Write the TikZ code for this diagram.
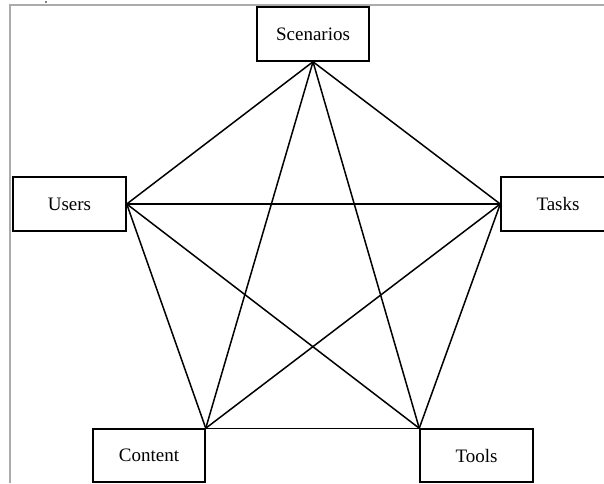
\documentclass[tikz,border=0pt]{standalone}
\usepackage{fontspec}
\setmainfont{Liberation Serif}
\tikzset{
    facet/.style = {rectangle,
                    fill=white,
                    draw=black,
                    text=black,
                    line width=1.5pt,
                    inner sep=0pt,
                    font=\fontsize{19}{22}\selectfont},
    link/.style  = {line width=1.5pt,
                    draw=black},
    frame/.style = {line width=2pt,
                    draw=black!33}}
\begin{document}
\begin{tikzpicture}[x=1pt,y=-1pt]
                \useasboundingbox (0,0) rectangle (604,483);
                \clip (0,0) rectangle (604,483);
                \draw [frame] (10,483) -- (10,5) -- (604,5);
                \fill (46,2) circle (0.8pt);

                \node[facet,minimum width=112pt,minimum height=54pt] (S)  at (313,34)    {Scenarios};
                \node[facet,minimum width=113pt,minimum height=54pt] (U)  at (69.5,204)  {Users};
                \node[facet,minimum width=114pt,minimum height=54pt] (T)  at (558,204)   {Tasks};
                \node[facet,minimum width=112pt,minimum height=53pt] (C)  at (149,455.5) {Content};
                \node[facet,minimum width=113pt,minimum height=53pt] (To) at (476.5,455.5) {Tools};

                \path [link]    (S.south)      edge [] (U.east)
                                (S.south)      edge [] (T.west)
                                (S.south)      edge [] (C.north east)
                                (S.south)      edge [] (To.north west)
                                (U.east)       edge [] (T.west)
                                (U.east)       edge [] (C.north east)
                                (U.east)       edge [] (To.north west)
                                (T.west)       edge [] (C.north east)
                                (T.west)       edge [] (To.north west)
                                (C.north east) edge [] (To.north west);
        \end{tikzpicture}
\end{document}
